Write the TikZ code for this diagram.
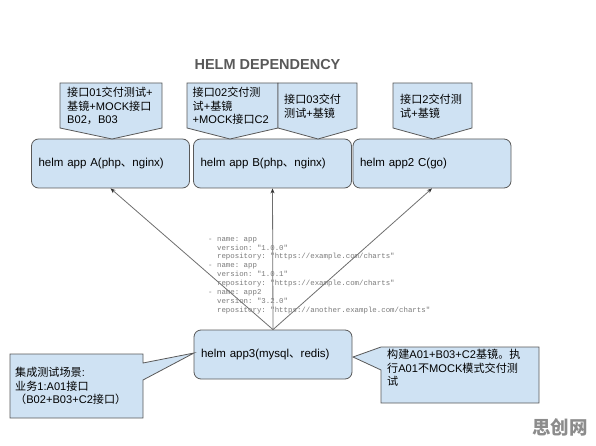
\documentclass[tikz,border=0pt]{standalone}
\usepackage{fontspec}
\setmainfont{Liberation Sans}
\setmonofont{Liberation Mono}
\newfontfamily\cjkf{Noto Sans CJK SC}
\newcommand\zhs[1]{{\cjkf #1}}
\usetikzlibrary{arrows.meta}
\definecolor{boxfill}{HTML}{CFE2F3}
\definecolor{boxline}{HTML}{595959}
\definecolor{titlec}{HTML}{595959}
\definecolor{yamlc}{HTML}{7A7A7A}
\definecolor{arrowc}{HTML}{6E6E6E}
\definecolor{markc}{HTML}{8C8C8C}
\begin{document}
\begin{tikzpicture}[x=1pt,y=-1pt,
  appbox/.style={draw=boxline, fill=boxfill, line width=0.8pt, rounded corners=7pt,
    minimum height=49pt, text width=144pt, inner xsep=7pt, align=left,
    font=\fontsize{11.5}{13.5}\selectfont},
  callshape/.style={draw=boxline, fill=boxfill, line width=0.8pt, line join=miter},
  calltext/.style={anchor=north west, inner sep=0pt, align=left,
    font=\fontsize{11.1}{13.5}\selectfont},
  dep/.style={draw=arrowc, line width=0.8pt, -{Stealth[length=5pt,width=4pt,color=black!80]}},
  yamltext/.style={anchor=north west, inner sep=0pt, align=left, text=yamlc,
    font=\ttfamily\fontsize{7.4}{8.9}\selectfont},
  titletext/.style={text=titlec, font=\bfseries\fontsize{14.5}{16}\selectfont},
  marktext/.style={text=markc, font=\cjkf\bfseries\fontsize{18.5}{19}\selectfont}]
\useasboundingbox (0,0) rectangle (596,446);

% title
\node[titletext] (title) at (267.5,65) {HELM DEPENDENCY};

% app boxes
\node[appbox] (A) at (110.5,163.5) {helm app A(php\zhs{、}nginx)};
\node[appbox] (B) at (272.5,163.5) {helm app B(php\zhs{、}nginx)};
\node[appbox] (C) at (432,163.5) {helm app2 C(go)};
\node[appbox] (D) at (273,354.5) {helm app3(mysql\zhs{、}redis)};

% dependency arrows
\draw[dep] (D.north) -- (A.south);
\draw[dep] (D.north) -- (B.south);
\draw[dep] (D.north) -- (C.south);

% yaml
\node[yamltext] (yaml) at (208,237) {%
- name: app\\
\phantom{- }version: "1.0.0"\\
\phantom{- }repository: "https://example.com/charts"\\
- name: app\\
\phantom{- }version: "1.0.1"\\
\phantom{- }repository: "https://example.com/charts"\\
- name: app2\\
\phantom{- }version: "3.2.0"\\
\phantom{- }repository: "https://another.example.com/charts"};

% callouts (shapes)
\path[callshape] (60,83) -- (162,83) -- (162,128) -- (112,139) -- (60,128) -- cycle;
\path[callshape] (187,83) -- (278,83) -- (278,128) -- (230,139) -- (187,128) -- cycle;
\path[callshape] (278,83) -- (357,83) -- (357,128) -- (318,139) -- (278,128) -- cycle;
\path[callshape] (393,83) -- (472,83) -- (472,128) -- (433,139) -- (393,128) -- cycle;
\path[callshape] (10,354) -- (143,354) -- (143,363) -- (194,353) -- (143,380) -- (143,418) -- (10,418) -- cycle;
\path[callshape] (381,347) -- (539,347) -- (539,403) -- (381,403) -- (381,370) -- (353,357) -- cycle;

% callout texts
\node[calltext] (tA) at (67,87) {\zhs{接口}01\zhs{交付测试}+\\\zhs{基镜}+MOCK\zhs{接口}\\B02\zhs{，}B03};
\node[calltext] (tB1) at (192.5,87) {\zhs{接口}02\zhs{交付测}\\\zhs{试}+\zhs{基镜}\\+MOCK\zhs{接口}C2};
\node[calltext] (tB2) at (284,94) {\zhs{接口}03\zhs{交付}\\\zhs{测试}+\zhs{基镜}};
\node[calltext] (tC) at (400,94) {\zhs{接口}2\zhs{交付测}\\\zhs{试}+\zhs{基镜}};
\node[calltext] (tL) at (15,367) {\zhs{集成测试场景}:\\\zhs{业务}1:A01\zhs{接口}\\\zhs{（}B02+B03+C2\zhs{接口）}};
\node[calltext] (tR) at (387,349) {\zhs{构建}A01+B03+C2\zhs{基镜。执}\\\zhs{行}A01\zhs{不}MOCK\zhs{模式交付测}\\\zhs{试}};

% watermark
\node[marktext] (mark) at (560,427) {思创网};
\end{tikzpicture}
\end{document}
